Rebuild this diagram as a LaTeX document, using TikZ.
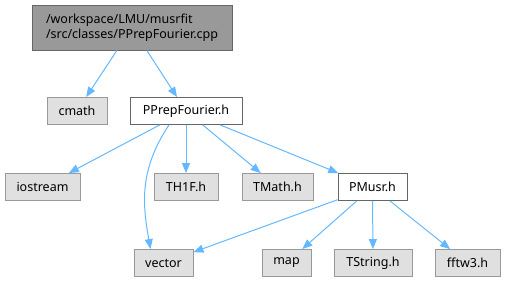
\documentclass[tikz,border=0pt]{standalone}
\usepackage{fontspec}
\setmainfont{Noto Sans}
\usetikzlibrary{arrows.meta,calc}
\definecolor{edgeblue}{HTML}{63B8FF}
\definecolor{rootfill}{HTML}{999999}
\definecolor{sysfill}{HTML}{E0E0E0}
\definecolor{darkline}{HTML}{666666}
\tikzset{
  box/.style={rectangle,draw,line width=0.9pt,inner sep=0pt,minimum height=27pt,
              font=\fontsize{12.5}{15.5}\selectfont},
  srcfile/.style={box,fill=rootfill,draw=darkline,minimum height=45pt,align=left},
  hdr/.style={box,fill=white,draw=darkline},
  sys/.style={box,fill=sysfill,draw=rootfill},
  edge/.style={-{Triangle[length=10pt,width=8pt]},edgeblue,line width=1pt},
}
\begin{document}
\begin{tikzpicture}[x=1pt,y=-1pt]
  \useasboundingbox (0,0) rectangle (505,282);
  % files
  \node[srcfile,minimum width=200pt] (root) at (132,27.5) {/workspace/LMU/musrfit\\/src/classes/PPrepFourier.cpp};
  \node[sys,minimum width=60pt] (cmath) at (77,111) {cmath};
  \node[hdr,minimum width=112pt] (pf) at (186,111) {PPrepFourier.h};
  \node[sys,minimum width=75pt] (iostream) at (42.5,187) {iostream};
  \node[sys,minimum width=64pt] (th1f) at (186,187) {TH1F.h};
  \node[sys,minimum width=71pt] (tmath) at (277.5,187) {TMath.h};
  \node[hdr,minimum width=69pt] (pmusr) at (372.5,187) {PMusr.h};
  \node[sys,minimum width=59pt] (vector) at (163.5,263) {vector};
  \node[sys,minimum width=49pt] (map) at (286.5,263) {map};
  \node[sys,minimum width=78pt] (tstring) at (373,263) {TString.h};
  \node[sys,minimum width=65pt] (fftw) at (467.5,263) {fftw3.h};
  % includes
  \draw[edge] (root) -- (cmath);
  \draw[edge] (root) -- (pf);
  \draw[edge] (pf) -- (iostream);
  \draw[edge] ($(pf.south)+(-17,0)$) .. controls +(-30,45) and +(-8,-45) .. ($(vector.north)+(-13,0)$);
  \draw[edge] (pf) -- (th1f);
  \draw[edge] (pf) -- (tmath);
  \draw[edge] (pf) -- (pmusr);
  \draw[edge] (pmusr) -- (vector);
  \draw[edge] (pmusr) -- (map);
  \draw[edge] (pmusr) -- (tstring);
  \draw[edge] (pmusr) -- (fftw);
\end{tikzpicture}
\end{document}
